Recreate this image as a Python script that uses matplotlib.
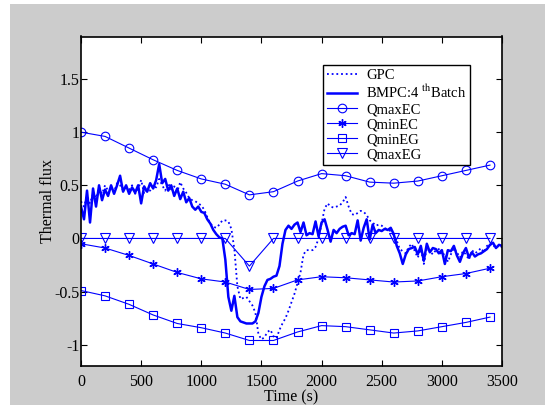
import numpy as np
import matplotlib
matplotlib.use("Agg")
import matplotlib.pyplot as plt
from matplotlib.patches import Rectangle

plt.rcParams['font.family'] = ['Liberation Serif', 'DejaVu Serif']
plt.rcParams['mathtext.fontset'] = 'stix'

# ---- data ----
t_noisy = np.arange(0, 3501, 25)
bmpc = [0.30, 0.18, 0.45, 0.15, 0.47, 0.30, 0.50, 0.36, 0.46, 0.40,
        0.50, 0.42, 0.50, 0.59, 0.44, 0.50, 0.42, 0.48, 0.43, 0.50,
        0.33, 0.49, 0.44, 0.52, 0.47, 0.55, 0.70, 0.52, 0.56, 0.45,
        0.50, 0.40, 0.47, 0.37, 0.44, 0.34, 0.38, 0.30, 0.27, 0.30,
        0.25, 0.24, 0.18, 0.14, 0.08, 0.04, 0.01, 0.00, -0.20, -0.55,
        -0.68, -0.54, -0.74, -0.78, -0.79, -0.80, -0.80, -0.80, -0.78, -0.70,
        -0.55, -0.45, -0.39, -0.38, -0.36, -0.35, -0.26, -0.05, 0.08, 0.12,
        0.09, 0.13, 0.15, 0.06, 0.15, 0.03, 0.05, 0.04, 0.16, 0.02,
        0.15, 0.18, 0.08, -0.03, 0.08, 0.05, 0.09, 0.11, 0.12, 0.03,
        0.05, 0.04, 0.17, -0.02, 0.10, 0.18, -0.01, 0.13, 0.05, 0.08,
        0.07, 0.09, 0.08, 0.10, 0.04, -0.07, -0.14, -0.24, -0.15, -0.10,
        -0.09, -0.08, -0.15, -0.07, -0.21, -0.05, -0.13, -0.09, -0.10, -0.14,
        -0.11, -0.24, -0.11, -0.12, -0.07, -0.16, -0.22, -0.14, -0.09, -0.18,
        -0.13, -0.17, -0.15, -0.14, -0.12, -0.10, -0.06, -0.04, -0.09, -0.06,
        -0.07]
gpc = [0.35, 0.30, 0.40, 0.33, 0.42, 0.38, 0.48, 0.42, 0.50, 0.45,
       0.47, 0.44, 0.52, 0.50, 0.45, 0.48, 0.46, 0.50, 0.42, 0.46,
       0.55, 0.42, 0.46, 0.45, 0.50, 0.48, 0.56, 0.50, 0.45, 0.52,
       0.46, 0.49, 0.44, 0.53, 0.47, 0.43, 0.38, 0.36, 0.35, 0.33,
       0.31, 0.27, 0.20, 0.14, 0.11, 0.10, 0.13, 0.17, 0.17, 0.16,
       0.09, -0.10, -0.45, -0.57, -0.56, -0.55, -0.59, -0.63, -0.70, -0.90,
       -0.95, -0.93, -0.88, -0.86, -0.92, -0.94, -0.86, -0.80, -0.75, -0.68,
       -0.60, -0.52, -0.42, -0.32, -0.15, -0.11, -0.11, -0.11, -0.08, 0.00,
       0.14, 0.28, 0.33, 0.30, 0.29, 0.30, 0.31, 0.34, 0.39, 0.30,
       0.23, 0.22, 0.24, 0.26, 0.25, 0.22, 0.17, 0.15, 0.12, 0.13,
       0.12, 0.10, 0.08, 0.07, 0.03, -0.02, -0.10, -0.12, -0.14, -0.08,
       -0.05, -0.12, -0.18, -0.10, -0.24, -0.09, -0.12, -0.15, -0.11, -0.10,
       -0.16, -0.14, -0.22, -0.15, -0.09, -0.13, -0.18, -0.12, -0.15, -0.20,
       -0.11, -0.14, -0.12, -0.09, -0.13, -0.07, -0.05, -0.08, -0.06, -0.09,
       -0.08]

t_marker = np.arange(0, 3401, 200)
qmax_ec = [1.00, 0.96, 0.85, 0.74, 0.64, 0.56, 0.51, 0.41, 0.44,
           0.54, 0.61, 0.59, 0.53, 0.52, 0.54, 0.59, 0.64, 0.69]
qmin_ec = [-0.05, -0.09, -0.16, -0.24, -0.32, -0.38, -0.41, -0.48, -0.47,
           -0.39, -0.36, -0.37, -0.39, -0.41, -0.40, -0.36, -0.33, -0.28]
qmin_eg = [-0.49, -0.54, -0.62, -0.72, -0.80, -0.84, -0.89, -0.96, -0.96,
           -0.88, -0.82, -0.83, -0.86, -0.89, -0.87, -0.83, -0.79, -0.74]
qmax_eg = [0, 0, 0, 0, 0, 0, 0, -0.26, 0,
           0, 0, 0, 0, 0, 0, 0, 0, 0]

xticks = [0, 500, 1000, 1500, 2000, 2500, 3000, 3500]
yticks = [-1, -0.5, 0, 0.5, 1, 1.5]
ytick_labels = ['-1', '-0.5', '0', '0.5', '1', '1.5']

# ---- figure ----
W, H = 556, 405
fig = plt.figure(figsize=(W / 100, H / 100), dpi=100)
fig.patch.set_facecolor('white')
fig.patches.append(Rectangle((10 / W, 0), (545 - 10) / W, 401 / H,
                             transform=fig.transFigure, facecolor='#cccccc',
                             edgecolor='none', zorder=-10))

ax = fig.add_axes([81 / W, 1 - 366 / H, (502 - 81) / W, (366 - 36.5) / H])
ax.set_facecolor('white')

blue = (0, 0, 1)
ax.plot(t_noisy, gpc, color=blue, lw=1.3, linestyle=(0, (1, 1.6)), label='GPC')
ax.plot(t_noisy, bmpc, color=blue, lw=1.8, label='BMPC:4 $^{\\mathrm{th}}$Batch')
ax.plot(t_marker, qmax_ec, color=blue, lw=0.8, marker='o', ms=6.2,
        mfc='none', mew=0.8, label='QmaxEC')
ax.plot(t_marker, qmin_ec, color=blue, lw=0.8, marker=(6, 2, 0), ms=6,
        mew=1.0, label='QminEC')
ax.plot(t_marker, qmin_eg, color=blue, lw=0.8, marker='s', ms=5.5,
        mfc='none', mew=0.8, label='QminEG')
ax.plot(t_marker, qmax_eg, color=blue, lw=0.8, marker='v', ms=7,
        mfc='none', mew=0.8, label='QmaxEG')

ax.set_xlim(0, 3500)
ax.set_ylim(-1.2, 1.9)
ax.set_xticks(xticks)
ax.set_yticks(yticks)
ax.set_yticklabels(ytick_labels)
ax.tick_params(direction='in', top=True, right=True, length=4, width=0.8,
               labelsize=11.5, colors='black')
ax.tick_params(axis='y', pad=1)
ax.tick_params(axis='x', pad=6)
for s in ax.spines.values():
    s.set_linewidth(1.2)
    s.set_color('black')

ax.set_xlabel('Time (s)', fontsize=11.5, labelpad=-1)
ax.set_ylabel('Thermal flux', fontsize=11.5, labelpad=-1)

leg = ax.legend(loc='upper left', bbox_to_anchor=(0.575, 0.912),
                fontsize=10.5, frameon=True, fancybox=False, framealpha=1,
                edgecolor='black', handlelength=2.1, handletextpad=0.6,
                labelspacing=0.12, borderpad=0.25, borderaxespad=0,
                numpoints=1)
leg.get_frame().set_linewidth(1.0)

fig.savefig('out.png', dpi=100, facecolor=fig.get_facecolor())
